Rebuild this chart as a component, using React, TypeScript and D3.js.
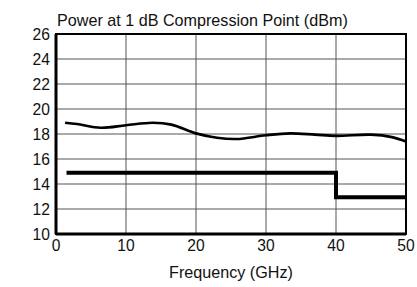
import React from "react";
import * as d3 from "d3";

const freqTicks = [0, 10, 20, 30, 40, 50];
const powerTicks = [10, 12, 14, 16, 18, 20, 22, 24, 26];
const typFreq = [1.3, 3, 6.4, 10, 13.8, 16.5, 20, 23, 25.8, 30, 33.4, 37, 40, 45, 48, 50];
const typPower = [18.9, 18.8, 18.5, 18.7, 18.9, 18.75, 18.05, 17.7, 17.6, 17.9, 18.05, 17.95, 17.85, 17.95, 17.75, 17.4];
const specFreq = [1.5, 40, 40, 50];
const specPower = [14.9, 14.9, 12.95, 12.95];
const title = "Power at 1 dB Compression Point (dBm)";
const xTitle = "Frequency (GHz)";

function T(props: { x: number; y: number; sx: number; anchor?: string; dy?: string; children: React.ReactNode }) {
  return (
    <text
      transform={`translate(${props.x},${props.y}) scale(${props.sx},1)`}
      textAnchor={props.anchor || "start"}
      dy={props.dy}
    >
      {props.children}
    </text>
  );
}

export default function App() {
  const W = 417, H = 287;
  const x = d3.scaleLinear().domain([0, 50]).range([56, 406]);
  const y = d3.scaleLinear().domain([10, 26]).range([234, 34]);
  const curve = d3.line<number>().x((_, i) => x(typFreq[i])).y((d) => y(d)).curve(d3.curveCatmullRom.alpha(0.5));
  const step = d3.line<number>().x((_, i) => x(specFreq[i])).y((d) => y(d));
  const font = "Liberation Sans, Arial, sans-serif";
  return (
    <svg width={W} height={H} style={{ position: "absolute", left: 0, top: 0, background: "#fff" }}>
      <g stroke="#555" strokeWidth={1}>
        {freqTicks.slice(1, -1).map((t) => (
          <line key={"v" + t} x1={x(t)} x2={x(t)} y1={y(26)} y2={y(10)} />
        ))}
        {powerTicks.slice(1, -1).map((t) => (
          <line key={"h" + t} x1={x(0)} x2={x(50)} y1={y(t)} y2={y(t)} />
        ))}
      </g>
      <rect x={x(0)} y={y(26)} width={x(50) - x(0)} height={y(10) - y(26)} fill="none" stroke="#000" strokeWidth={2} />
      <line x1={x(0)} x2={x(50)} y1={y(10)} y2={y(10)} stroke="#000" strokeWidth={3} />
      <line x1={x(0)} x2={x(0)} y1={y(26)} y2={y(10)} stroke="#000" strokeWidth={3} />
      <path d={curve(typPower) || ""} fill="none" stroke="#000" strokeWidth={2.6} />
      <path d={step(specPower) || ""} fill="none" stroke="#000" strokeWidth={4} />
      <g fontFamily={font} fontSize={17} fill="#111">
        {powerTicks.map((t) => (
          <T key={"yl" + t} x={50} y={y(t)} sx={0.92} dy="0.36em" anchor="end">{t}</T>
        ))}
        {freqTicks.map((t) => (
          <T key={"xl" + t} x={x(t)} y={251} sx={0.92} anchor="middle">{t}</T>
        ))}
        <T x={231} y={278} sx={0.95} anchor="middle">{xTitle}</T>
        <T x={57} y={26} sx={0.95}>{title}</T>
      </g>
    </svg>
  );
}
